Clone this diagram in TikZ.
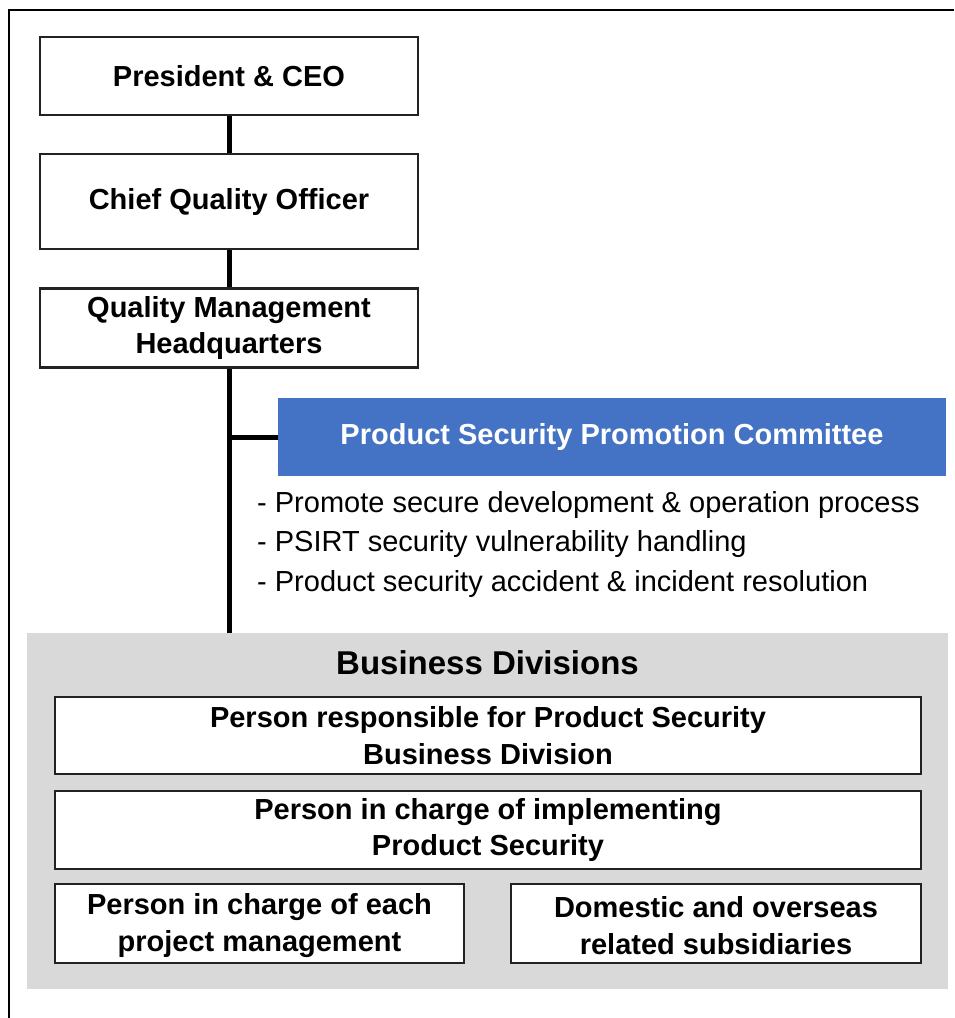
\documentclass[tikz,border=0pt]{standalone}
\usepackage{fontspec}
\setmainfont{Liberation Sans}
\usetikzlibrary{
  positioning,
  backgrounds
}
\definecolor{psblue}{HTML}{4472C4}
\definecolor{bdgray}{HTML}{D9D9D9}
\definecolor{edge}{HTML}{222222}

\begin{document}
\begin{tikzpicture}[
  x = 1pt, y = -1pt,
  % ── Base box ────────────────────────────────────────────
  orgbox/.style={
    rectangle,
    draw            = edge,
    line width      = 2.2pt,
    fill            = white,
    align           = center,
    inner sep       = 0pt,
    font            = \fontsize{29}{36.5}\selectfont\bfseries
  },
  % ── Committee box ───────────────────────────────────────
  bluebox/.style={
    rectangle,
    draw            = none,
    fill            = psblue,
    text            = white,
    align           = center,
    inner sep       = 0pt,
    minimum width   = 668pt,
    minimum height  = 78pt,
    font            = \fontsize{29}{36}\selectfont\bfseries
  },
  % ── Business division group ─────────────────────────────
  group/.style={
    rectangle,
    draw            = none,
    fill            = bdgray,
    inner sep       = 0pt
  },
  % ── Connector ───────────────────────────────────────────
  conn/.style={
    line width      = 5pt,
    draw            = black
  },
  % ── Task list ───────────────────────────────────────────
  tasks/.style={
    align           = left,
    inner sep       = 0pt,
    font            = \fontsize{29}{39.5}\selectfont
  }
]
\useasboundingbox (0,0) rectangle (954,1018);

% ── Frame ──────────────────────────────────────────────────
\draw[line width=2pt] (9,1018) -- (9,10) -- (954,10);

% ── Management chain ───────────────────────────────────────
\node[orgbox, minimum width=378pt, minimum height=78pt] (ceo) at (229,76) {President \& CEO};
\node[orgbox, minimum width=378pt, minimum height=95pt, below=37pt of ceo] (cqo) {Chief Quality Officer};
\node[orgbox, minimum width=378pt, minimum height=79pt, below=37pt of cqo] (qmh) {Quality Management\\Headquarters};

% ── Committee ──────────────────────────────────────────────
\node[bluebox] (psc) at (612,437) {Product Security Promotion Committee};
\node[tasks, anchor=west] (duty) at (257,544) {%
  - Promote secure development \& operation process\\
  - PSIRT security vulnerability handling\\
  - Product security accident \& incident resolution};

% ── Business divisions ─────────────────────────────────────
\node[group, minimum width=921pt, minimum height=356pt] (biz) at (487.5,811) {};
\node[font=\fontsize{33}{36}\selectfont\bfseries] (biztitle) at (487.5,663) {Business Divisions};
\node[orgbox, minimum width=866pt, minimum height=77pt] (resp) at (488,735.5)
  {Person responsible for Product Security\\Business Division};
\node[orgbox, minimum width=866pt, minimum height=78pt, below=15pt of resp] (impl)
  {Person in charge of implementing\\Product Security};
\node[orgbox, minimum width=409pt, minimum height=79pt] (proj) at (259.5,923.5)
  {\strut Person in charge of each\\project management};
\node[orgbox, minimum width=410pt, minimum height=79pt] (subs) at (716,923.5)
  {\strut Domestic and overseas\\related subsidiaries};

% ── Connectors ─────────────────────────────────────────────
\draw[conn] (ceo) -- (cqo);
\draw[conn] (cqo) -- (qmh);
\draw[conn] (qmh.south) -- (qmh.south |- biz.north);
\draw[conn] (psc.west) -- (psc.west -| qmh.south);

\end{tikzpicture}
\end{document}
